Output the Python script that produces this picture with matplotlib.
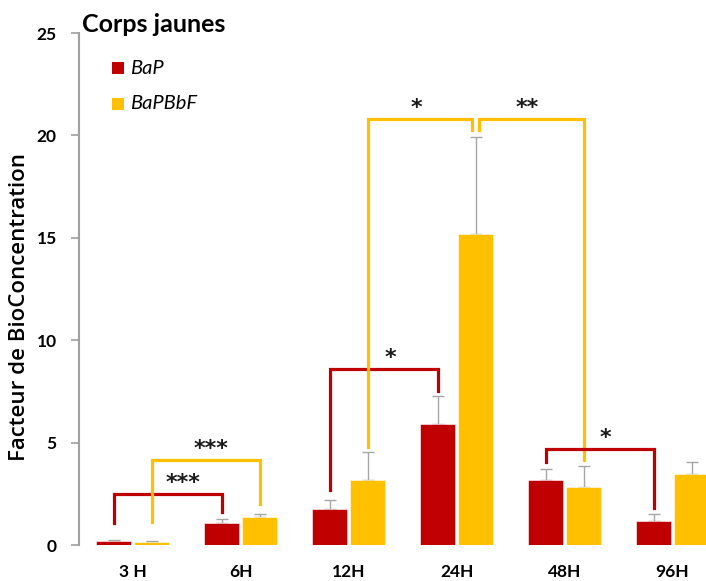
import matplotlib.pyplot as plt
import numpy as np
from matplotlib.patches import Rectangle

# Bioconcentration factor in corpora lutea, mean + upper error
times = ['3 H', '6H', '12H', '24H', '48H', '96H']
series = ['BaP', 'BaPBbF']
bap_mean = [0.21, 1.07, 1.74, 5.89, 3.17, 1.17]
bap_err = [0.05, 0.18, 0.45, 1.40, 0.54, 0.34]
bapbbf_mean = [0.14, 1.38, 3.17, 15.17, 2.85, 3.47]
bapbbf_err = [0.04, 0.15, 1.37, 4.74, 1.00, 0.60]

# significance brackets: (group_from, group_to, series index, label)
sig_pairs = [(0, 1, 0, '***'), (0, 1, 1, '***'), (2, 3, 0, '*'),
             (2, 3, 1, '*'), (3, 4, 1, '**'), (4, 5, 0, '*')]
# bracket geometry: (top, left leg bottom, right leg bottom, label shift)
sig_heights = [(2.5, 1.05, 1.6, 0.14), (4.15, 1.1, 2.0, 0.05),
               (8.6, 2.7, 7.53, 0.065), (20.8, 4.8, 20.26, -0.03),
               (20.8, 20.26, 4.15, -0.04), (4.69, 4.07, 1.8, 0.05)]

colors = ['#C00000', '#FFC000']
err_color = '#A6A6A6'
axis_color = '#A0A0A0'
font = 'Lato'
W, H = 706, 581

fig = plt.figure(figsize=(W / 100, H / 100), dpi=100)
ax = fig.add_axes([79 / W, 36 / H, 1 - 79 / W, 512 / H])

x = np.arange(len(times))
width = 0.324
offset = 0.176
means = [bap_mean, bapbbf_mean]
errs = [bap_err, bapbbf_err]

for k in range(2):
    pos = x + (2 * k - 1) * offset
    ax.bar(pos, means[k], width=width, color=colors[k], edgecolor='white',
           linewidth=0.4, zorder=2)
    ax.errorbar(pos, means[k], yerr=[np.zeros(len(times)), errs[k]], fmt='none',
                ecolor=err_color, elinewidth=1, capsize=4, capthick=1, zorder=1)

# brackets between time points
for (g1, g2, s, label), (top, yb1, yb2, dx) in zip(sig_pairs, sig_heights):
    x1 = g1 + (2 * s - 1) * offset
    x2 = g2 + (2 * s - 1) * offset
    # keep the two brackets meeting on the 24H bar apart
    if g2 == 3 and s == 1:
        x2 -= 0.03
    if g1 == 3 and s == 1:
        x1 += 0.03
    ax.plot([x1, x1, x2, x2], [yb1, top, top, yb2], color=colors[s],
            linewidth=2.3, solid_joinstyle='miter', zorder=3)
    ax.text((x1 + x2) / 2 + dx, top + 0.55, label, ha='center', va='center',
            fontsize=16, fontweight='bold', color='#1a1a1a', family='DejaVu Sans')

ax.set_xlim(-0.5, 5.31)
ax.set_ylim(0, 25)
ax.set_yticks(range(0, 26, 5))
ax.set_xticks(x)
ax.set_xticklabels(times, fontsize=12.5, fontweight='bold', family=font)
ax.tick_params(axis='x', length=0, pad=14)
ax.tick_params(axis='y', direction='out', length=6, width=1.2, color=axis_color,
               pad=10, labelsize=12.5)
for lbl in ax.get_yticklabels():
    lbl.set_fontweight('bold')
    lbl.set_family(font)

for side in ['top', 'right', 'bottom']:
    ax.spines[side].set_visible(False)
ax.spines['left'].set_color(axis_color)
ax.spines['left'].set_linewidth(1.5)

ax.set_ylabel('Facteur de BioConcentration', fontsize=16, fontweight='semibold',
              family='Open Sans')
ax.yaxis.set_label_coords((30 - 79) / 627, (545 - 307) / 512)

fig.text(82 / W, 1 - 25 / H, 'Corps jaunes', fontsize=18, fontweight='bold',
         family=font, va='center', ha='left')

# legend drawn as swatches plus labels
for k, name in enumerate(series):
    yc = 68 + 36 * k
    fig.patches.append(Rectangle((112 / W, 1 - (yc + 6) / H), 12 / W, 12 / H,
                                 transform=fig.transFigure, facecolor=colors[k],
                                 edgecolor='none'))
    fig.text(130 / W, 1 - yc / H, name, fontsize=14.5, style='italic',
             family=font, va='center', ha='left')

fig.savefig('out.png', dpi=100)
